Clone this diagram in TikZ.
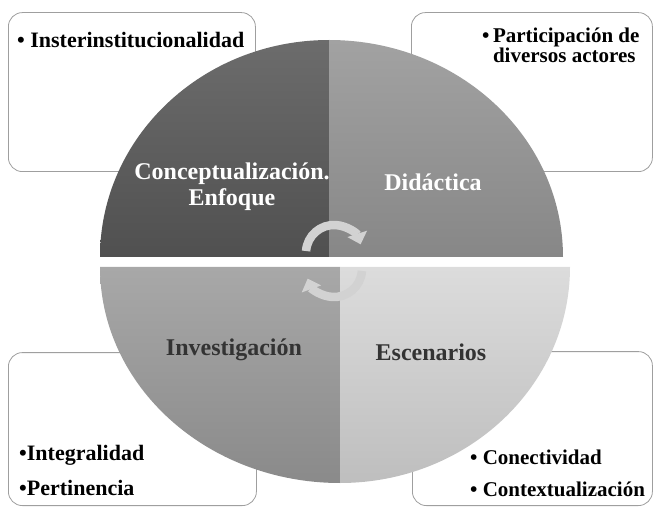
\documentclass[tikz,border=0pt]{standalone}
\usepackage{fontspec}
\setmainfont{Liberation Serif}
\usetikzlibrary{arrows.meta}

\definecolor{tlTop}{HTML}{6C6C6C}
\definecolor{tlBot}{HTML}{505050}
\definecolor{trTop}{HTML}{A2A2A2}
\definecolor{trBot}{HTML}{878787}
\definecolor{blTop}{HTML}{A8A8A8}
\definecolor{blBot}{HTML}{8A8A8A}
\definecolor{brTop}{HTML}{DCDCDC}
\definecolor{brBot}{HTML}{BEBEBE}
\definecolor{labDark}{HTML}{333333}
\definecolor{cycGray}{HTML}{D2D2D2}

\begin{document}
\begin{tikzpicture}[x=1pt,y=1pt,
    rbox/.style={draw=gray!75, line width=0.8pt, fill=white, rounded corners=14pt, anchor=south west},
    qlabel/.style={font=\bfseries\fontsize{24}{26}\selectfont, align=center},
    blist/.style={font=\bfseries\fontsize{21}{23}\selectfont, anchor=west, inner sep=0pt},
    cyc/.style={line width=8.5pt, draw=cycGray, -{Triangle[length=11pt,width=20pt]}}]
\useasboundingbox (0,0) rectangle (654,507);

% Boxes behind the circle
\node[rbox, minimum width=247, minimum height=159] (boxTL) at (8,335) {};
\node[rbox, minimum width=241, minimum height=159] (boxTR) at (411,335) {};
\node[rbox, minimum width=248, minimum height=153] (boxBL) at (8,1) {};
\node[rbox, minimum width=240, minimum height=154] (boxBR) at (412,1) {};

% Quadrants
\shade[top color=tlTop, bottom color=tlBot] (329,250) -- (100,250)
    arc[start angle=180, end angle=90, x radius=229, y radius=217] -- cycle;
\shade[top color=trTop, bottom color=trBot] (329,250) -- (329,467)
    arc[start angle=90, end angle=0, x radius=234, y radius=217] -- cycle;
\shade[top color=blTop, bottom color=blBot] (340,240) -- (100,240)
    arc[start angle=180, end angle=270, x radius=240, y radius=216] -- cycle;
\shade[top color=brTop, bottom color=brBot] (340,240) -- (340,24)
    arc[start angle=270, end angle=360, x radius=230, y radius=216] -- cycle;

% Cycle arrows
\coordinate (cycUp) at (334,254);
\coordinate (cycDn) at (334,238);
\draw[cyc] (cycUp) ++(176:28) arc[start angle=176, end angle=18, radius=28];
\draw[cyc] (cycDn) ++(-4:28) arc[start angle=-4, end angle=-160, radius=28];

% Labels
\node[qlabel, text=white] (conc) at (232,320) {Conceptualización.\\Enfoque};
\node[qlabel, text=white] (dida) at (433,325) {Didáctica};
\node[qlabel, text=labDark] (inve) at (234,157) {Investigación};
\node[qlabel, text=labDark] (esce) at (431,155) {Escenarios};

% Lists
\node[blist, font=\bfseries\fontsize{22}{24}\selectfont] (insti) at (17,467) {• Insterinstitucionalidad};
\node[blist] (parti) at (482,459) {•\,\begin{tabular}[t]{@{}l@{}}Participación de\\[-3pt]diversos actores\end{tabular}};
\node[blist, font=\bfseries\fontsize{22}{24}\selectfont] (integ) at (19,52) {•Integralidad};
\node[blist, font=\bfseries\fontsize{22}{24}\selectfont] (perti) at (19,19) {•Pertinencia};
\node[blist] (conec) at (470,50) {• Conectividad};
\node[blist] (conte) at (470,18) {• Contextualización};
\end{tikzpicture}
\end{document}
